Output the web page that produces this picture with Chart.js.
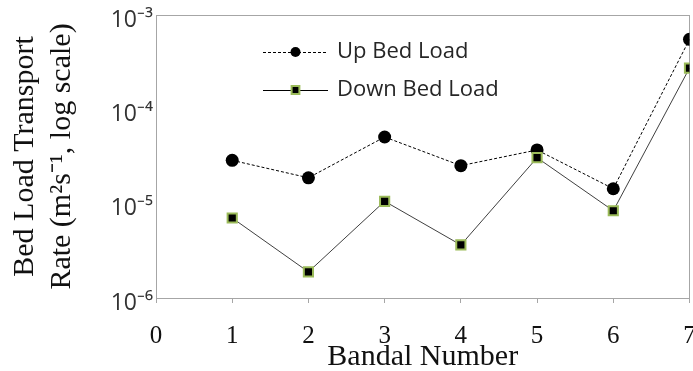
<!DOCTYPE html>
<html>
<head>
<meta charset="utf-8">
<script src="https://cdn.jsdelivr.net/npm/chart.js@4"></script>
<style>
  html, body { margin: 0; padding: 0; background: #fff; overflow: hidden; width: 693px; height: 371px; }
  canvas { display: block; }
</style>
</head>
<body>
<canvas id="c" width="698" height="371"></canvas>
<script>
const categories = [1, 2, 3, 4, 5, 6, 7];
const upBedLoad = [2.88e-5, 1.88e-5, 5.09e-5, 2.53e-5, 3.71e-5, 1.44e-5, 5.52e-4];
const downBedLoad = [7.05e-6, 1.89e-6, 1.06e-5, 3.65e-6, 3.07e-5, 8.41e-6, 2.74e-4];
const xTickValues = [0, 1, 2, 3, 4, 5, 6, 7];
const yTickValues = [1e-6, 1e-5, 1e-4, 1e-3];
const yTickLabels = ['10\u207B\u2076', '10\u207B\u2075', '10\u207B\u2074', '10\u207B\u00B3'];
const seriesNames = ['Up Bed Load', 'Down Bed Load'];

const frameColor = '#a6a6a6';
const green = '#9bbb59';

const framePlugin = {
  id: 'frame',
  beforeDatasetsDraw(chart) {
    const {ctx, chartArea: a} = chart;
    ctx.save();
    ctx.strokeStyle = frameColor;
    ctx.lineWidth = 1;
    ctx.strokeRect(Math.round(a.left) + 0.5, Math.round(a.top) + 0.5,
                   Math.round(a.right - a.left) - 1, Math.round(a.bottom - a.top));
    ctx.restore();
  }
};

const lineLegend = {
  id: 'lineLegend',
  afterDraw(chart) {
    const {ctx, chartArea: a} = chart;
    const x0 = a.left + 107, x1 = a.left + 172, tx = a.left + 181;
    const ys = [a.top + 37, a.top + 75];
    chart.data.datasets.forEach((ds, i) => {
      const y = ys[i];
      ctx.save();
      ctx.strokeStyle = '#000';
      ctx.lineWidth = 1;
      ctx.setLineDash(ds.borderDash || []);
      ctx.beginPath();
      ctx.moveTo(x0, y + 0.5);
      ctx.lineTo(x1, y + 0.5);
      ctx.stroke();
      ctx.setLineDash([]);
      ctx.fillStyle = ds.pointBackgroundColor;
      ctx.strokeStyle = ds.pointBorderColor;
      ctx.lineWidth = ds.pointBorderWidth;
      Chart.helpers.drawPoint(ctx, {
        pointStyle: ds.pointStyle,
        radius: ds.legendRadius,
        borderWidth: ds.pointBorderWidth,
        rotation: 0
      }, (x0 + x1) / 2, y);
      ctx.fillStyle = '#262626';
      ctx.font = '22px "Open Sans"';
      ctx.textBaseline = 'middle';
      ctx.textAlign = 'left';
      ctx.fillText(ds.label, tx, y);
      ctx.restore();
    });
  }
};

new Chart(document.getElementById('c'), {
  type: 'line',
  data: {
    datasets: [
      {
        label: seriesNames[0],
        data: categories.map((c, i) => ({x: c, y: upBedLoad[i]})),
        borderColor: '#000',
        borderWidth: 1,
        borderDash: [3, 2],
        pointStyle: 'circle',
        pointRadius: 6.5,
        legendRadius: 5,
        pointBackgroundColor: '#000',
        pointBorderColor: '#000',
        pointBorderWidth: 0,
        order: 2
      },
      {
        label: seriesNames[1],
        data: categories.map((c, i) => ({x: c, y: downBedLoad[i]})),
        borderColor: '#404040',
        borderWidth: 1,
        pointStyle: 'rect',
        pointRadius: 6.5,
        legendRadius: 5.5,
        pointBackgroundColor: '#000',
        pointBorderColor: green,
        pointBorderWidth: 2,
        order: 1
      }
    ]
  },
  options: {
    responsive: false,
    animation: false,
    layout: { padding: { left: 0, right: 4, top: 15, bottom: 0 } },
    plugins: { legend: { display: false }, tooltip: { enabled: false } },
    elements: { line: { tension: 0 } },
    scales: {
      x: {
        type: 'linear',
        min: 0,
        max: 7,
        afterBuildTicks(scale) { scale.ticks = xTickValues.map(v => ({value: v})); },
        afterFit(scale) { scale.height = 73; scale.paddingLeft = 0; scale.paddingRight = 0; },
        grid: { display: true, drawOnChartArea: false, drawTicks: true, tickLength: 5, color: frameColor },
        border: { display: true, color: frameColor },
        ticks: {
          padding: 18,
          color: '#111',
          font: { family: 'Liberation Serif', size: 25, lineHeight: 1.2 },
          maxRotation: 0,
          autoSkip: false
        },
        title: {
          display: true,
          text: 'Bandal Number',
          color: '#111',
          font: { family: 'Liberation Serif', size: 30, lineHeight: 0.95 },
          padding: { top: 0, bottom: 0 }
        }
      },
      y: {
        type: 'logarithmic',
        min: 1e-6,
        max: 1e-3,
        afterBuildTicks(scale) { scale.ticks = yTickValues.map(v => ({value: v})); },
        afterFit(scale) { scale.width = 156; scale.paddingTop = 0; scale.paddingBottom = 0; },
        grid: { display: false, drawTicks: false },
        border: { display: true, color: frameColor },
        ticks: {
          padding: 3,
          labelOffset: 5,
          color: '#333',
          font: { family: 'Open Sans', size: 23 },
          autoSkip: false,
          callback(v) {
            const i = yTickValues.findIndex(t => Math.abs(Math.log10(t) - Math.log10(v)) < 1e-6);
            return i >= 0 ? yTickLabels[i] : '';
          }
        },
        title: {
          display: true,
          text: ['Bed Load Transport', 'Rate (m\u00B2s\u207B\u00B9, log scale)'],
          color: '#111',
          font: { family: 'Liberation Serif', size: 30, lineHeight: 1.233 },
          padding: { top: 7, bottom: 0 }
        }
      }
    }
  },
  plugins: [framePlugin, lineLegend]
});
</script>
</body>
</html>
